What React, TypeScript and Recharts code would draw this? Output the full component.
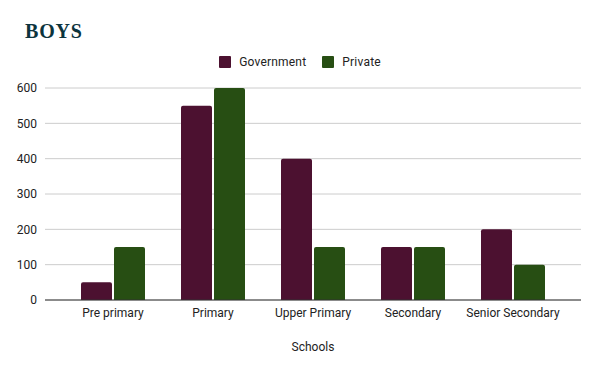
import React from "react";
import { BarChart, Bar, XAxis, YAxis, CartesianGrid, Legend } from "recharts";

const categories = ["Pre primary", "Primary", "Upper Primary", "Secondary", "Senior Secondary"];
const government = [50, 550, 400, 150, 200];
const privateSchools = [150, 600, 150, 150, 100];
const yTicks = [0, 100, 200, 300, 400, 500, 600];

const data = categories.map((name, i) => ({
  name,
  Government: government[i],
  Private: privateSchools[i],
}));

const FONT = "Roboto, 'Liberation Sans', Arial, sans-serif";
const COLORS: { [key: string]: string } = { Government: "#4c1130", Private: "#274e13" };

function LegendContent() {
  return (
    <div style={{ display: "flex", justifyContent: "center", alignItems: "center", height: 14 }}>
      {Object.keys(COLORS).map((key, i) => (
        <div key={key} style={{ display: "flex", alignItems: "center", marginLeft: i ? 16 : 0 }}>
          <span style={{ width: 12, height: 12, background: COLORS[key], borderRadius: 1, marginRight: 8 }} />
          <span style={{ fontSize: 12, fontFamily: FONT, color: "#222222", letterSpacing: 0.2 }}>{key}</span>
        </div>
      ))}
    </div>
  );
}

export default function App() {
  return (
    <div style={{ position: "absolute", left: 0, top: 0, width: 600, height: 371, background: "#fff" }}>
      <div
        style={{
          position: "absolute",
          left: 25,
          top: 20,
          fontFamily: "'Liberation Serif', 'DejaVu Serif', serif",
          fontWeight: "bold",
          fontSize: 20,
          letterSpacing: 0.8,
          color: "#0c343d",
          zIndex: 2,
        }}
      >
        BOYS
      </div>
      <BarChart
        width={600}
        height={371}
        data={data}
        margin={{ top: 74, right: 19, left: 0, bottom: 0 }}
        barCategoryGap={18}
        barGap={2}
      >
        <CartesianGrid vertical={false} stroke="#cccccc" />
        <XAxis
          dataKey="name"
          height={71}
          padding={{ left: 18, right: 18 }}
          axisLine={{ stroke: "#333333" }}
          tickLine={false}
          tick={{ fill: "#222222", fontSize: 12, fontFamily: FONT }}
          interval={0}
          label={{ value: "Schools", position: "insideBottom", offset: 20, fill: "#222222", fontSize: 12, fontFamily: FONT }}
        />
        <YAxis
          width={45}
          domain={[0, 600]}
          ticks={yTicks}
          axisLine={false}
          tickLine={false}
          tick={{ fill: "#222222", fontSize: 12, fontFamily: FONT }}
        />
        <Legend
          verticalAlign="top"
          align="center"
          wrapperStyle={{ top: 55, left: 0, width: 600 }}
          content={<LegendContent />}
        />
        <Bar dataKey="Government" fill={COLORS.Government} radius={[2, 2, 0, 0]} isAnimationActive={false} />
        <Bar dataKey="Private" fill={COLORS.Private} radius={[2, 2, 0, 0]} isAnimationActive={false} />
      </BarChart>
    </div>
  );
}
